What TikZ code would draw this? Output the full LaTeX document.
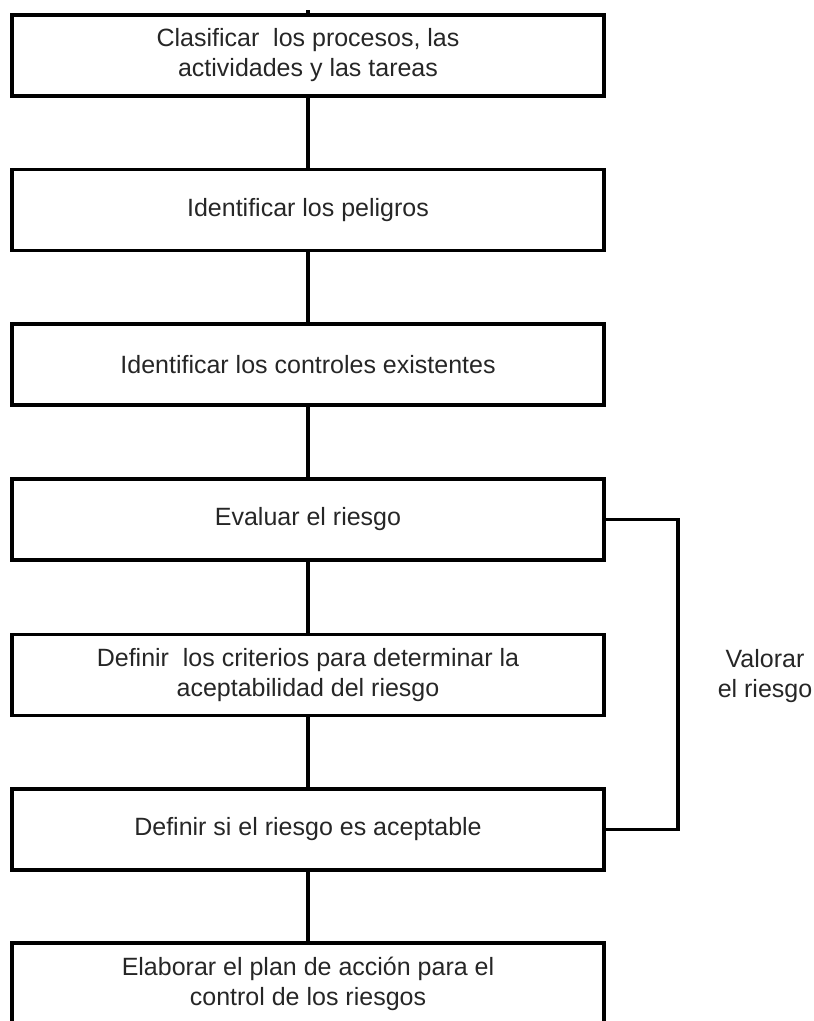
\documentclass[tikz,border=0pt]{standalone}
\usepackage{fontspec}
\setmainfont{Liberation Sans}
\tikzset{every picture/.style={line width=3.5pt}}

\begin{document}
\begin{tikzpicture}[x=1pt,y=1pt,yscale=-1,xscale=1,
  paso/.style={draw, rectangle, minimum width=592pt, minimum height=81pt, inner sep=0pt,
    align=center, font=\fontsize{25}{30}\selectfont, text=black!85},
  nota/.style={align=center, inner sep=0pt, font=\fontsize{25}{30}\selectfont, text=black!85}]
%set diagram to 814 x 1021, last box runs off the bottom
\useasboundingbox (0,0) rectangle (814,1021);
\clip (0,0) rectangle (814,1021);

% Text Node
\node[paso] (clasificar) at (308,55.5) {Clasificar\ \ los procesos, las\\actividades y las tareas};
% Text Node
\node[paso] (peligros) at (308,210) {Identificar los peligros};
% Text Node
\node[paso] (controles) at (308,364.5) {Identificar los controles existentes};
% Text Node
\node[paso] (evaluar) at (308,519.5) {Evaluar el riesgo};
% Text Node
\node[paso] (criterios) at (308,675) {Definir\ \ los criterios para determinar la\\aceptabilidad del riesgo};
% Text Node
\node[paso] (aceptable) at (308,829.5) {Definir si el riesgo es aceptable};
% Text Node
\node[paso] (plan) at (308,983.5) {Elaborar el plan de acci\'on para el\\control de los riesgos};
% Text Node
\node[nota] (valorar) at (765,676) {Valorar\\el riesgo};

%Straight Lines
\coordinate (entrada) at (308,10);
\draw (entrada) -- (clasificar.north);
\foreach \a/\b in {clasificar/peligros, peligros/controles, controles/evaluar,
  evaluar/criterios, criterios/aceptable, aceptable/plan}
  \draw (\a.south) -- (\b.north);

%Bracket from evaluar to aceptable
\coordinate (retorno) at (678,519.5);
\draw (evaluar.east) -- (retorno) |- (aceptable.east);

\end{tikzpicture}
\end{document}
